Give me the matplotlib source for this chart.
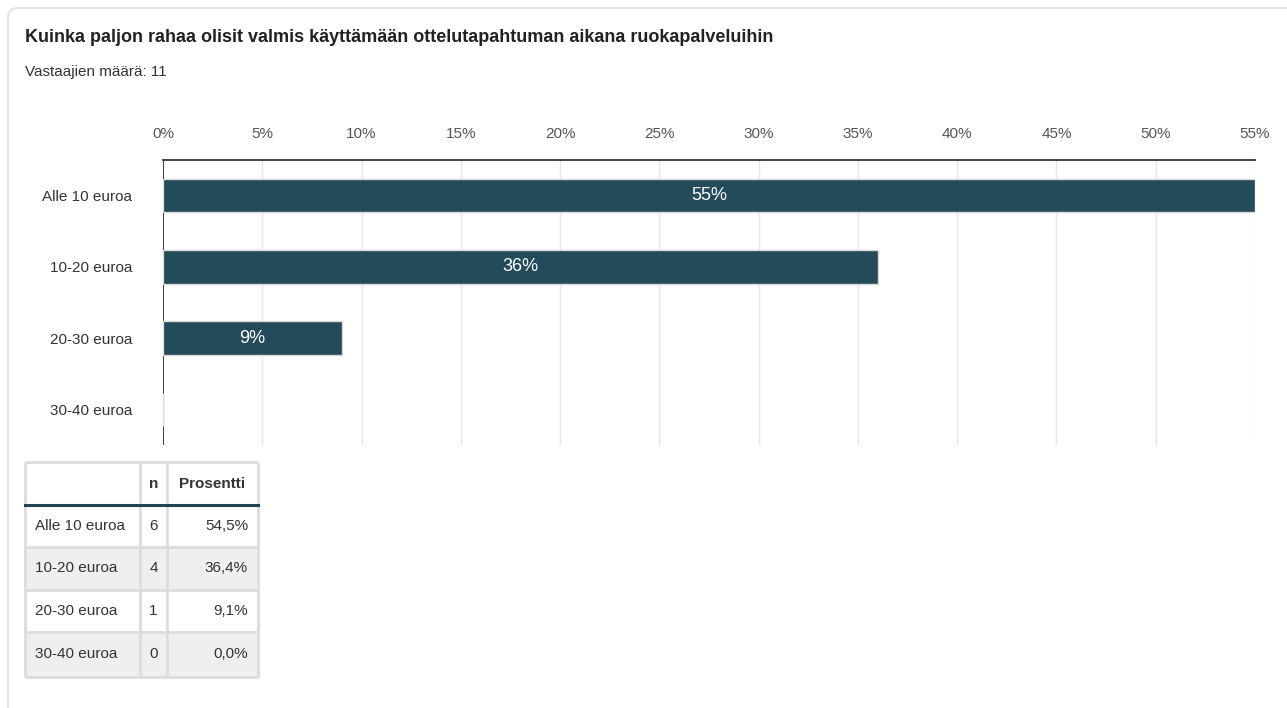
import matplotlib
matplotlib.use("Agg")
import matplotlib.pyplot as plt
from matplotlib.patches import FancyBboxPatch, Rectangle

plt.rcParams["font.family"] = ["Liberation Sans", "DejaVu Sans"]

title = "Kuinka paljon rahaa olisit valmis käyttämään ottelutapahtuman aikana ruokapalveluihin"
subtitle = "Vastaajien määrä: 11"
categories = ["Alle 10 euroa", "10-20 euroa", "20-30 euroa", "30-40 euroa"]
counts = [6, 4, 1, 0]
x_ticks = [0, 5, 10, 15, 20, 25, 30, 35, 40, 45, 50, 55]

total = sum(counts)
shares = [c / total * 100 for c in counts]
bar_values = [round(s) for s in shares]

BAR = "#234b59"
TXT = "#333333"
FS = 11
W, H = 1287, 708

fig = plt.figure(figsize=(W / 100, H / 100), dpi=100)
fig.patch.set_facecolor("white")

# overlay in pixel coordinates for the card, header texts and the table
bg = fig.add_axes([0, 0, 1, 1])
bg.set_xlim(0, W)
bg.set_ylim(H, 0)
bg.axis("off")
bg.add_patch(FancyBboxPatch((8, 8), W + 20, H + 20, boxstyle="round,pad=0,rounding_size=10",
                            facecolor="white", edgecolor="#e2e2e2", linewidth=1.5))
bg.text(25, 37, title, fontsize=13, fontweight="bold", color="#222222", va="center")
bg.text(25, 72, subtitle, fontsize=FS, color=TXT, va="center")

# bar chart
ax = fig.add_axes([163 / W, 1 - 445 / H, (1255 - 163) / W, 285 / H])
ypos = list(range(len(categories)))
ax.axvline(0, color=TXT, linewidth=1.3, zorder=1)
ax.barh(ypos, bar_values, height=0.47, color=BAR, edgecolor="#d8d8d8", linewidth=1, zorder=2)
for y, v in zip(ypos, bar_values):
    if v > 0:
        ax.text(v / 2, y, f"{v}%", color="white", fontsize=13, ha="center", va="center", zorder=3)

ax.set_xlim(0, 55)
ax.set_ylim(len(categories) - 0.5, -0.5)
ax.set_xticks(x_ticks)
ax.set_xticklabels([f"{t}%" for t in x_ticks])
ax.xaxis.tick_top()
ax.tick_params(axis="x", length=0, pad=14, labelsize=FS, labelcolor="#555555")
ax.set_yticks(ypos)
ax.set_yticklabels(categories)
ax.tick_params(axis="y", length=0, pad=22, labelsize=FS, labelcolor=TXT)
ax.grid(axis="x", color="#e6e6e6", linewidth=1, zorder=0)
ax.set_axisbelow(True)
for side in ["left", "right", "bottom"]:
    ax.spines[side].set_visible(False)
ax.spines["top"].set_color(TXT)
ax.spines["top"].set_linewidth(1.3)

# summary table
col_x = [25, 140, 167, 258]
row_y = [462, 505, 547, 590, 632, 677]
for i in range(len(categories)):
    if i % 2 == 1:
        bg.add_patch(Rectangle((col_x[0], row_y[i + 1]), col_x[-1] - col_x[0],
                               row_y[i + 2] - row_y[i + 1], facecolor="#efefef", edgecolor="none"))
for x in col_x:
    bg.plot([x, x], [row_y[0], row_y[-1]], color="#dcdcdc", linewidth=2, solid_capstyle="butt")
for y in row_y:
    bg.plot([col_x[0], col_x[-1]], [y, y], color="#dcdcdc", linewidth=2, solid_capstyle="butt")
bg.plot([col_x[0], col_x[-1]], [row_y[1], row_y[1]], color="#1f4552", linewidth=2.2)

hy = (row_y[0] + row_y[1]) / 2
bg.text((col_x[1] + col_x[2]) / 2, hy, "n", fontsize=FS, fontweight="bold", color=TXT,
        ha="center", va="center")
bg.text((col_x[2] + col_x[3]) / 2, hy, "Prosentti", fontsize=FS, fontweight="bold",
        color=TXT, ha="center", va="center")
for i, (cat, n, s) in enumerate(zip(categories, counts, shares)):
    cy = (row_y[i + 1] + row_y[i + 2]) / 2
    bg.text(col_x[0] + 10, cy, cat, fontsize=FS, color=TXT, va="center")
    bg.text((col_x[1] + col_x[2]) / 2, cy, str(n), fontsize=FS, color=TXT,
            ha="center", va="center")
    bg.text(col_x[3] - 10, cy, f"{s:.1f}%".replace(".", ","), fontsize=FS, color=TXT,
            ha="right", va="center")

fig.savefig("out.png", dpi=100)
